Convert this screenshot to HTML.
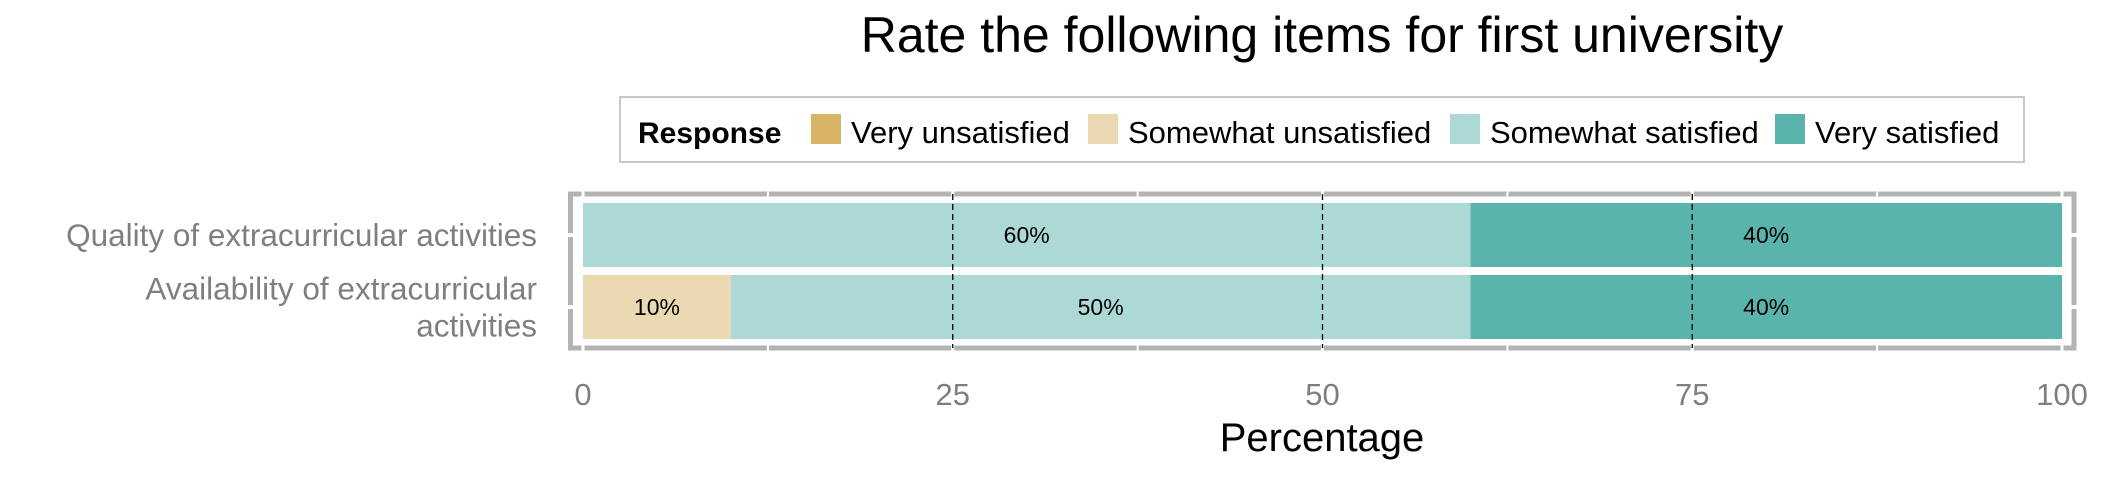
<!DOCTYPE html>
<html><head><meta charset="utf-8"><style>
html,body{margin:0;padding:0;background:#fff;}
svg{display:block;font-family:"Liberation Sans",Arial,sans-serif;}
</style></head><body>
<svg id="chart" width="2125" height="484" viewBox="0 0 2125 484" xmlns="http://www.w3.org/2000/svg">
<text x="1322" y="52" font-size="50" text-anchor="middle" fill="#000">Rate the following items for first university</text>
<g>
<rect x="620" y="97" width="1404" height="65" fill="#fff" stroke="#c8c8c8" stroke-width="2"/>
<text x="638" y="143" font-size="30" font-weight="bold" fill="#000">Response</text>
<rect x="811" y="114" width="30" height="30" fill="#d8b365"/>
<text x="851" y="143" font-size="31" fill="#000">Very unsatisfied</text>
<rect x="1088" y="114" width="30" height="30" fill="#ebd9b2"/>
<text x="1128" y="143" font-size="31" fill="#000">Somewhat unsatisfied</text>
<rect x="1450" y="114" width="30" height="30" fill="#acd9d5"/>
<text x="1490" y="143" font-size="31" fill="#000">Somewhat satisfied</text>
<rect x="1775" y="114" width="30" height="30" fill="#5ab4ac"/>
<text x="1815" y="143" font-size="31" fill="#000">Very satisfied</text>
</g>
<g id="plot"></g>
<text x="1322" y="451" font-size="40" text-anchor="middle" fill="#000">Percentage</text>
</svg>
<script>
const categories = ["Quality of extracurricular activities", "Availability of extracurricular activities"];
const seriesNames = ["Very unsatisfied", "Somewhat unsatisfied", "Somewhat satisfied", "Very satisfied"];
const verySatisfied = [40, 40];
const somewhatSatisfied = [60, 50];
const somewhatUnsatisfied = [0, 10];
const veryUnsatisfied = [0, 0];
const xTicks = [0, 25, 50, 75, 100];
const colors = ["#d8b365", "#ebd9b2", "#acd9d5", "#5ab4ac"];

const NS = "http://www.w3.org/2000/svg";
const g = document.getElementById("plot");
const X0 = 583, X1 = 2062;
const x = v => X0 + (X1 - X0) * v / 100;
const rowCenters = [235, 307];
const y = i => rowCenters[i];
const barH = 64;
function mk(tag, attrs) { const e = document.createElementNS(NS, tag); for (const k in attrs) e.setAttribute(k, attrs[k]); g.appendChild(e); return e; }

let b = mk("rect", {x: 570.5, y: 194, width: 1503.5, height: 154, fill: "none", stroke: "#b3b3b3", "stroke-width": 5});


for (let v = 0; v <= 100; v += 12.5) {
  const l = mk("line", {x1: x(v), x2: x(v), y1: 190, y2: 352, stroke: "#fff", "stroke-width": (v % 25 === 0) ? 3 : 2});
  
  
}
rowCenters.forEach((c, i) => {
  const l = mk("line", {x1: 566, x2: 2080, y1: y(i), y2: y(i), stroke: "#fff", "stroke-width": 4});
  
  
});

const series = [veryUnsatisfied, somewhatUnsatisfied, somewhatSatisfied, verySatisfied];
categories.forEach((cat, i) => {
  let acc = 0;
  series.forEach((s, k) => {
    const v = s[i];
    if (v > 0) {
      const r = mk("rect", {x: x(acc), y: y(i) - barH / 2, width: x(acc + v) - x(acc), height: barH, fill: colors[k]});
      
      
    }
    acc += v;
  });
});
[25, 50, 75].forEach(v => {
  const l = mk("line", {x1: x(v), x2: x(v), y1: 194, y2: 348, stroke: "#000", "stroke-width": 1.3, "stroke-dasharray": "6,4"});
  
  
});
categories.forEach((cat, i) => {
  let acc = 0;
  series.forEach((s, k) => {
    const v = s[i];
    if (v > 0) {
      const t = mk("text", {x: x(acc + v / 2), y: y(i) + 8, "font-size": 23, "text-anchor": "middle", fill: "#000"});
      t.textContent = v + "%";
      
      
    }
    acc += v;
  });
});
const yLines = [["Quality of extracurricular activities"], ["Availability of extracurricular", "activities"]];
categories.forEach((cat, i) => {
  const lines = yLines[i];
  lines.forEach((ln, j) => {
    const off = (j - (lines.length - 1) / 2) * 37;
    const t = mk("text", {x: 537, y: y(i) + off + 11, "font-size": 31.5, "text-anchor": "end", fill: "#7f7f7f"});
    t.textContent = ln;
    
    
  });
});
xTicks.forEach(v => {
  const t = mk("text", {x: x(v), y: 405, "font-size": 31, "text-anchor": "middle", fill: "#7f7f7f"});
  t.textContent = v;
  
  
});
</script>
</body></html>
